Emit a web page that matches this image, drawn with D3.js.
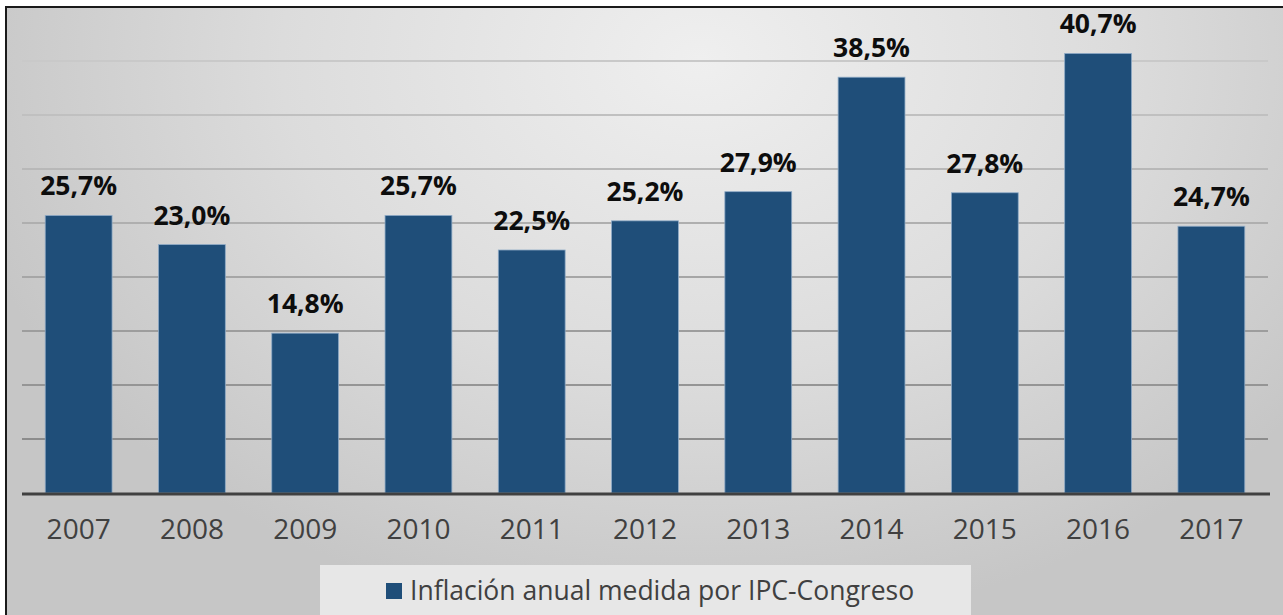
<!DOCTYPE html>
<html><head><meta charset="utf-8">
<script src="https://cdn.jsdelivr.net/npm/d3@7"></script>
<style>html,body{margin:0;padding:0;background:#fff;overflow:hidden}</style>
</head><body>
<svg id="c" width="1283" height="615"></svg>
<script>
const years = ["2007","2008","2009","2010","2011","2012","2013","2014","2015","2016","2017"];
const inflation = [25.7, 23.0, 14.8, 25.7, 22.5, 25.2, 27.9, 38.5, 27.8, 40.7, 24.7];
const gridValues = [5, 10, 15, 20, 25, 30, 35, 40];
const seriesName = "Inflación anual medida por IPC-Congreso";

const W = 1283, H = 615;
const svg = d3.select("#c");
const defs = svg.append("defs");
const rg = defs.append("radialGradient").attr("id","bg")
  .attr("gradientUnits","userSpaceOnUse").attr("cx",700).attr("cy",60).attr("r",760)
  .attr("gradientTransform","matrix(1,0,0,0.75,0,15)");
rg.append("stop").attr("offset","0").attr("stop-color","#efefef");
rg.append("stop").attr("offset","0.55").attr("stop-color","#dcdcdc");
rg.append("stop").attr("offset","1").attr("stop-color","#c6c6c6");

svg.append("rect").attr("x",5).attr("y",6).attr("width",W).attr("height",H).attr("fill","url(#bg)");
svg.append("line").attr("x1",6).attr("x2",6).attr("y1",6).attr("y2",H).attr("stroke","#1a1a1a").attr("stroke-width",2);
svg.append("line").attr("x1",5).attr("x2",W).attr("y1",7).attr("y2",7).attr("stroke","#1a1a1a").attr("stroke-width",2);

const x = d3.scaleBand().domain(years).range([22, 1268]).paddingInner(0.41).paddingOuter(0.205);
const y = d3.scaleLinear().domain([0, 45]).range([493, 7]);
const gridColor = d3.scaleLinear().domain([40, 5]).range(["#c9c9c9", "#8c8c8c"]);

svg.append("g").selectAll("line").data(gridValues).join("line")
  .attr("x1", 22).attr("x2", 1268)
  .attr("y1", d => y(d)).attr("y2", d => y(d))
  .attr("stroke", d => gridColor(d)).attr("stroke-width", 2);

svg.append("g").selectAll("rect").data(inflation).join("rect")
  .attr("x", (d,i) => x(years[i]))
  .attr("width", x.bandwidth())
  .attr("y", d => y(d))
  .attr("height", d => y(0) - y(d))
  .attr("fill", "#1f4e79")
  .attr("stroke", "#8eaac6").attr("stroke-width", 0.8);

svg.append("line").attr("x1",22).attr("x2",1270).attr("y1",y(0)+1).attr("y2",y(0)+1)
  .attr("stroke","#404040").attr("stroke-width",3);

svg.append("g").selectAll("text").data(inflation).join("text")
  .attr("x", (d,i) => x(years[i]) + x.bandwidth()/2)
  .attr("y", d => y(d) - 20)
  .attr("text-anchor","middle")
  .attr("font-family","'Open Sans', sans-serif").attr("font-weight","bold")
  .attr("font-size", 26.5).attr("fill","#0d0d0d")
  .text(d => d.toFixed(1).replace(".", ",") + "%");

const xAxis = svg.append("g").attr("transform", `translate(0,${y(0)})`)
  .call(d3.axisBottom(x).tickSize(0));
xAxis.select(".domain").remove();
xAxis.selectAll("text").attr("font-family","'Open Sans', sans-serif").attr("font-size",28)
  .attr("fill","#404040").attr("y",46).attr("dy",0);

// legend
const lg = svg.append("g");
lg.append("rect").attr("x",320).attr("y",565).attr("width",651).attr("height",60).attr("fill","#e7e7e7");
lg.append("rect").attr("x",386).attr("y",583).attr("width",16).attr("height",16).attr("fill","#1f4e79");
lg.append("text").attr("x",410).attr("y",600).attr("font-family","'Open Sans', sans-serif")
  .attr("font-size",26.5).attr("fill","#404040").text(seriesName);
</script>
</body></html>
